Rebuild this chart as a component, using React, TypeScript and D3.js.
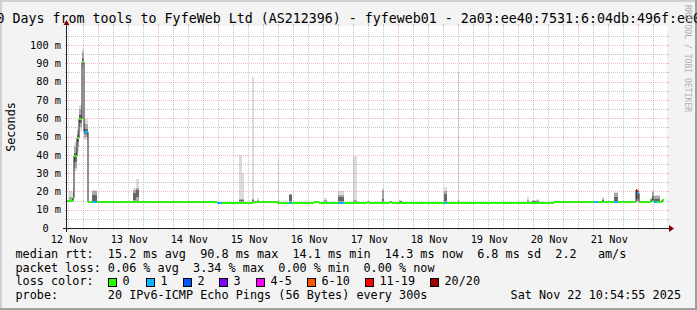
import React from "react";
import * as d3 from "d3";

const W = 697;
const H = 310;
const X0 = 67;
const X1 = 667;
const Y0 = 228;
const Y1 = 26;

const graphEnd = Date.UTC(2025, 10, 22, 11, 30, 0);
const graphStart = graphEnd - 10 * 24 * 3600 * 1000;

const title =
  "10 Days from tools to FyfeWeb Ltd (AS212396) - fyfeweb01 - 2a03:ee40:7531:6:04db:496f:ee01";
const yAxisTitle = "Seconds";
const watermark = "RRDTOOL / TOBI OETIKER";
const yMax = 110.4;
const yTicks = [0, 10, 20, 30, 40, 50, 60, 70, 80, 90, 100];
const yTickLabels = ["0  ", "10 m", "20 m", "30 m", "40 m", "50 m", "60 m", "70 m", "80 m", "90 m", "100 m"];
const dayLabels = ["12 Nov", "13 Nov", "14 Nov", "15 Nov", "16 Nov", "17 Nov", "18 Nov", "19 Nov", "20 Nov", "21 Nov"];

const lossLabels = ["0", "1", "2", "3", "4-5", "6-10", "11-19", "20/20"];
const lossUpper = [0, 1, 2, 3, 5, 10, 19, 20];
const lossPalette = ["#26ff00", "#00b8ff", "#0059ff", "#7e00ff", "#ff00ff", "#ff5500", "#ff0000", "#a10000"];

// [hours from graph start, hours end, median rtt (ms), lost pings of 20]
const medianSegments: [number, number, number, number][] = [
  [0.0, 2.2, 14.5, 0],
  [2.2, 2.6, 16.2, 0],
  [2.6, 4.0, 39.6, 0],
  [4.0, 4.8, 49.2, 0],
  [4.8, 6.0, 59.6, 0],
  [6.0, 6.6, 90.8, 0],
  [6.6, 8.2, 52.3, 1],
  [8.2, 10.0, 14.3, 0],
  [10.0, 12.0, 14.3, 1],
  [12.0, 59.9, 14.3, 0],
  [59.9, 61.9, 13.8, 1],
  [61.9, 74.5, 13.8, 0],
  [74.5, 83.9, 14.3, 0],
  [83.9, 88.7, 13.8, 0],
  [88.7, 90.1, 13.8, 1],
  [90.1, 98.9, 13.8, 0],
  [98.9, 100.8, 14.3, 0],
  [100.8, 105.9, 13.8, 0],
  [105.9, 106.4, 13.8, 1],
  [106.4, 108.5, 13.8, 0],
  [108.5, 110.9, 13.8, 1],
  [110.9, 119.9, 13.8, 0],
  [119.9, 120.9, 14.3, 0],
  [120.9, 128.9, 13.8, 0],
  [128.9, 129.9, 14.3, 0],
  [129.9, 150.7, 13.8, 0],
  [150.7, 152.1, 13.8, 1],
  [152.1, 194.8, 13.8, 0],
  [194.8, 210.9, 14.3, 0],
  [210.9, 212.3, 14.3, 1],
  [212.3, 218.8, 14.3, 0],
  [218.8, 220.3, 14.3, 1],
  [220.3, 227.6, 14.3, 0],
  [227.6, 228.0, 21.0, 12],
  [228.0, 228.8, 19.0, 1],
  [228.8, 233.6, 14.3, 0],
  [233.6, 234.0, 15.6, 0],
  [234.0, 234.8, 14.8, 0],
  [234.8, 236.0, 14.3, 1],
  [236.0, 238.0, 14.3, 0],
  [238.0, 238.8, 15.4, 0],
];

// [hours from, hours to, p0, p10, p30, p70, p90, p100] ping rtt distribution (ms)
const smokeSegments: number[][] = [
  [0.8, 2.2, 14.3, 14.5, 14.8, 15.5, 17, 20],
  [2.2, 2.6, 15, 15.5, 16, 17, 19, 22],
  [2.6, 4.0, 31, 33, 36, 41, 44, 47],
  [4.0, 4.8, 41, 44, 47, 51, 53, 54],
  [4.8, 6.0, 53, 55, 57.5, 62, 65, 67],
  [6.0, 6.6, 88, 89.5, 90.5, 93, 96, 98],
  [6.6, 8.2, 48, 50, 51.5, 54, 57, 59.5],
  [10.0, 12.0, 14.3, 14.5, 15, 18, 20, 20.8],
  [26.4, 27.6, 14, 14.5, 15.5, 19, 20.5, 22],
  [27.6, 28.6, 14, 15, 17, 20.5, 22, 26.8],
  [68.9, 70.1, 14, 14.3, 14.6, 15.2, 16, 40],
  [70.1, 70.8, 14, 14.3, 14.6, 15.2, 16, 30],
  [73.9, 74.9, 14, 14.3, 14.6, 15.2, 16, 82.7],
  [75.9, 76.8, 14, 14.2, 14.5, 15, 15.5, 16.3],
  [84.2, 84.6, 14, 14.2, 14.5, 15, 15.5, 38],
  [88.7, 90.1, 13.8, 14.2, 14.6, 18.2, 18.4, 18.6],
  [102.8, 104.0, 14, 14.2, 14.5, 15, 15.5, 16.6],
  [108.5, 110.9, 13.8, 14.2, 14.8, 17, 18, 20.4],
  [114.5, 116.0, 14, 14.2, 14.5, 15, 15.5, 39.5],
  [126.0, 126.8, 14, 14.2, 14.5, 16, 21, 22],
  [132.8, 134.0, 14, 14.1, 14.3, 14.6, 15, 15.5],
  [150.7, 152.1, 13.8, 14.2, 15, 18.5, 20, 22.6],
  [156.2, 156.6, 14, 14.2, 14.5, 15, 15.5, 85],
  [183.9, 184.8, 14, 14.2, 14.5, 15, 15.5, 17],
  [185.9, 188.0, 14, 14.1, 14.3, 14.6, 15, 15.5],
  [187.9, 188.8, 14, 14.2, 14.5, 15, 15.5, 16],
  [213.9, 214.8, 14.3, 14.5, 14.7, 15.2, 15.8, 17],
  [218.8, 220.3, 14.3, 14.6, 15, 17, 19, 19.8],
  [227.6, 228.8, 14.5, 15, 16, 20, 21, 21.5],
  [233.9, 234.9, 14.3, 14.8, 15.5, 17.5, 19.5, 20.8],
  [234.9, 237.2, 14.3, 14.6, 15, 16, 17.3, 18.3],
  [237.9, 238.8, 14.3, 14.6, 15, 15.3, 15.5, 15.6],
];

const legendLines = [
  "median rtt:  15.2 ms avg  90.8 ms max  14.1 ms min  14.3 ms now  6.8 ms sd  2.2   am/s",
  "packet loss: 0.06 % avg  3.34 % max  0.00 % min  0.00 % now",
];
const lossColorLabel = "loss color:";
const probeText = "probe:       20 IPv6-ICMP Echo Pings (56 Bytes) every 300s";
const dateText = "Sat Nov 22 10:54:55 2025";

const MONO = "'DejaVu Sans Mono', monospace";
const smokeShades = ["#dcdcdc", "#a9a9a9", "#666666", "#a9a9a9", "#dcdcdc"];
const legendBoxX = [108, 146, 183, 219, 256, 307, 365, 430];
const PRE = { whiteSpace: "pre" as const };

export default function App() {
  const x = d3.scaleUtc().domain([new Date(graphStart), new Date(graphEnd)]).range([X0, X1]);
  const y = d3.scaleLinear().domain([0, yMax]).range([Y0, Y1]);
  const hx = (h: number) => Math.round(x(new Date(graphStart + h * 3600 * 1000)));
  const lossIndex = (l: number) => lossUpper.findIndex((u) => l <= u);
  const bandTop = (v: number) => Math.round(y(v) - 1);

  const minorV = d3.utcHour
    .every(6)!
    .range(new Date(graphStart), new Date(graphEnd))
    .filter((d) => d.getUTCHours() !== 0);
  const majorV = d3.utcDay.range(new Date(graphStart), new Date(graphEnd));
  const dayNoons = d3.utcDay
    .range(new Date(graphStart - 86400000), new Date(graphEnd))
    .map((d) => new Date(+d + 12 * 3600 * 1000))
    .filter((d) => +d >= graphStart && +d <= graphEnd);

  const minorH = d3.range(5, 106, 10);
  const majorH = yTicks.filter((v) => v > 0);

  const pts: [number, number][] = medianSegments.map((s) => [hx(s[0]), bandTop(s[2]) + 1]);
  const last = medianSegments[medianSegments.length - 1];
  pts.push([hx(last[1]), bandTop(last[2]) + 1]);
  const medianPath = d3.line().curve(d3.curveStepAfter)(pts) || "";

  const gridMinor = "rgba(144,144,144,0.5)";
  const gridMajor = "rgba(224,80,80,0.4)";

  return (
    <svg width={W} height={H} style={{ display: "block", position: "absolute", left: 0, top: 0 }}>
      <rect x={0} y={0} width={W} height={H} fill="#f3f3f3" />
      <rect x={0} y={0} width={W} height={2} fill="#d0d0d0" />
      <rect x={0} y={0} width={2} height={H} fill="#d0d0d0" />
      <rect x={0} y={H - 2} width={W} height={2} fill="#a0a0a0" />
      <rect x={W - 2} y={0} width={2} height={H} fill="#a0a0a0" />
      <rect x={X0} y={Y1} width={X1 - X0} height={Y0 - Y1} fill="#ffffff" />

      {/* smoke */}
      <g shapeRendering="crispEdges">
        {smokeSegments.map((s, i) => {
          const xa = hx(s[0]);
          const xb = hx(s[1]);
          return smokeShades.map((c, k) => {
            const ya = y(s[3 + k]);
            const yb = y(s[2 + k]);
            if (yb - ya <= 0) return null;
            return <rect key={`${i}-${k}`} x={xa} y={ya} width={Math.max(1, xb - xa)} height={yb - ya} fill={c} />;
          });
        })}
      </g>

      {/* median line */}
      <path d={medianPath} fill="none" stroke="#202020" strokeWidth={1} />
      <g shapeRendering="crispEdges">
        {medianSegments.map((s, i) => {
          const xa = hx(s[0]);
          const xb = hx(s[1]);
          return (
            <rect
              key={i}
              x={xa}
              y={bandTop(s[2])}
              width={Math.max(1, xb - xa)}
              height={2}
              fill={lossPalette[lossIndex(s[3])]}
            />
          );
        })}
      </g>

      {/* grid */}
      <g shapeRendering="crispEdges" strokeWidth={1}>
        {minorH.map((v) => {
          const yy = Math.round(y(v)) + 0.5;
          return (
            <g key={`mh${v}`} stroke={gridMinor}>
              <line x1={X0} x2={X1} y1={yy} y2={yy} strokeDasharray="1,1" />
              <line x1={X0 - 2} x2={X0} y1={yy} y2={yy} />
              <line x1={X1} x2={X1 + 2} y1={yy} y2={yy} />
            </g>
          );
        })}
        {minorV.map((d) => {
          const xx = Math.round(x(d)) + 0.5;
          return (
            <g key={`mv${+d}`} stroke={gridMinor}>
              <line x1={xx} x2={xx} y1={Y1} y2={Y0} strokeDasharray="1,1" />
              <line x1={xx} x2={xx} y1={Y1 - 2} y2={Y1} />
              <line x1={xx} x2={xx} y1={Y0} y2={Y0 + 2} />
            </g>
          );
        })}
        {majorH.map((v) => {
          const yy = Math.round(y(v)) + 0.5;
          return (
            <g key={`Mh${v}`} stroke={gridMajor}>
              <line x1={X0} x2={X1} y1={yy} y2={yy} strokeDasharray="1,1" />
              <line x1={X0 - 2} x2={X0} y1={yy} y2={yy} />
              <line x1={X1} x2={X1 + 2} y1={yy} y2={yy} />
            </g>
          );
        })}
        {majorV.map((d) => {
          const xx = Math.round(x(d)) + 0.5;
          return (
            <g key={`Mv${+d}`} stroke={gridMajor}>
              <line x1={xx} x2={xx} y1={Y1} y2={Y0} strokeDasharray="1,1" />
              <line x1={xx} x2={xx} y1={Y1 - 2} y2={Y1} />
              <line x1={xx} x2={xx} y1={Y0} y2={Y0 + 2} />
            </g>
          );
        })}
      </g>

      {/* axes */}
      <g shapeRendering="crispEdges">
        <line x1={X0 - 4} x2={X1 + 4} y1={Y0 + 0.5} y2={Y0 + 0.5} stroke="#202020" />
        <line x1={X0 - 0.5} x2={X0 - 0.5} y1={Y0 + 4} y2={Y1 - 4} stroke="#202020" />
      </g>
      <polygon points={`${X1 + 2},${Y0 - 3} ${X1 + 2},${Y0 + 4} ${X1 + 7},${Y0 + 0.5}`} fill="#800000" />
      <polygon points={`${X0 - 3.5},${Y1 - 1} ${X0 + 2.5},${Y1 - 1} ${X0 - 0.5},${Y1 - 6}`} fill="#800000" />

      {/* axis labels */}
      <g fontFamily={MONO} fontSize={10.3} fill="#000">
        {yTicks.map((v, i) => (
          <text key={`yl${v}`} x={61} y={y(v) + 3.7} textAnchor="end" xmlSpace="preserve" style={PRE}>
            {yTickLabels[i]}
          </text>
        ))}
        {dayNoons.map((d, i) => (
          <text key={`xl${+d}`} x={x(d) + 1} y={242.5} textAnchor="middle">
            {dayLabels[i]}
          </text>
        ))}
      </g>

      <text transform="translate(15,127) rotate(-90)" textAnchor="middle" fontFamily={MONO} fontSize={11.8} fill="#000">
        {yAxisTitle}
      </text>

      <text x={-11.5} y={23} fontFamily={MONO} fontSize={13.3} fill="#000" xmlSpace="preserve" style={PRE}>
        {title}
      </text>

      <text transform="translate(685,5) rotate(90)" fontFamily={MONO} fontSize={8.1} fill="#b0b0b0">
        {watermark}
      </text>

      {/* legend */}
      <g fontFamily={MONO} fontSize={11.8} fill="#000">
        <text x={15.5} y={258} xmlSpace="preserve" style={PRE}>
          {legendLines[0]}
        </text>
        <text x={15.5} y={271.7} xmlSpace="preserve" style={PRE}>
          {legendLines[1]}
        </text>
        <text x={15.5} y={285.4} xmlSpace="preserve" style={PRE}>
          {lossColorLabel}
        </text>
        {lossLabels.map((l, i) => (
          <g key={l}>
            <rect
              x={legendBoxX[i] + 0.5}
              y={278.5}
              width={8}
              height={8}
              fill={lossPalette[i]}
              stroke="#000"
              strokeWidth={1}
              shapeRendering="crispEdges"
            />
            <text x={legendBoxX[i] + 14.5} y={285.4}>
              {l}
            </text>
          </g>
        ))}
        <text x={15.5} y={299.1} xmlSpace="preserve" style={PRE}>
          {probeText}
        </text>
        <text x={681} y={299.1} textAnchor="end">
          {dateText}
        </text>
      </g>
    </svg>
  );
}
